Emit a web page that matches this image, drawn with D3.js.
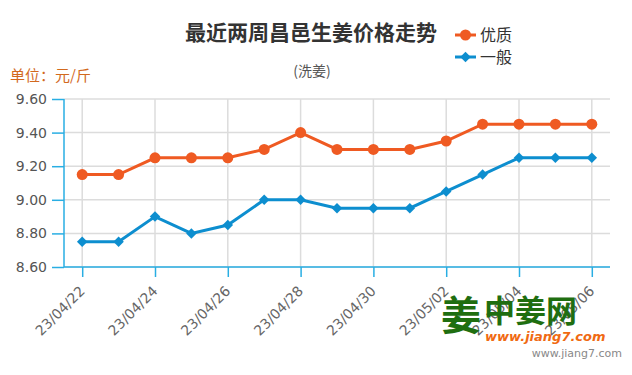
<!DOCTYPE html>
<html><head><meta charset="utf-8">
<script src="https://cdn.jsdelivr.net/npm/d3@7/dist/d3.min.js"></script>
<style>body{margin:0;background:#fff}svg{display:block;font-family:"Noto Sans CJK SC","Noto Sans",sans-serif}</style>
</head><body><svg id="c" width="632" height="375"></svg>
<script>
const dates = ["23/04/22","23/04/23","23/04/24","23/04/25","23/04/26","23/04/27","23/04/28","23/04/29","23/04/30","23/05/01","23/05/02","23/05/03","23/05/04","23/05/05","23/05/06"];
const premium = [9.15,9.15,9.25,9.25,9.25,9.30,9.40,9.30,9.30,9.30,9.35,9.45,9.45,9.45,9.45];
const regular = [8.75,8.75,8.90,8.80,8.85,9.00,9.00,8.95,8.95,8.95,9.05,9.15,9.25,9.25,9.25];
const yTicks = [8.60,8.80,9.00,9.20,9.40,9.60];
const xTicks = dates.filter((d,i)=>i%2===0);

const svg = d3.select("#c");
const L=64,R=610,T=99,B=267;
const x = d3.scalePoint().domain(dates).range([L,R]).padding(0.5);
const y = d3.scaleLinear().domain([8.6,9.6]).range([B,T]);
const orange="#ef5a22", blue="#0d8ecf", axisC="#29aee3";

// grid
svg.append("g").selectAll("line").data(yTicks).join("line")
  .attr("x1",L).attr("x2",R).attr("y1",d=>y(d)).attr("y2",d=>y(d))
  .attr("stroke","#dcdcdc").attr("stroke-width",1.5);
svg.append("g").selectAll("line").data(xTicks).join("line")
  .attr("x1",d=>x(d)).attr("x2",d=>x(d)).attr("y1",T).attr("y2",B)
  .attr("stroke","#dcdcdc").attr("stroke-width",1.5);

// axes
const ya = svg.append("g").attr("transform",`translate(${L},0)`)
  .call(d3.axisLeft(y).tickValues(yTicks).tickFormat(d3.format(".2f")).tickSize(12).tickPadding(5));
ya.select(".domain").attr("stroke",axisC).attr("stroke-width",1.5).attr("d",`M0,${T}V${B}`);
ya.selectAll(".tick line").attr("stroke",axisC).attr("stroke-width",1.5);
ya.selectAll("text").attr("fill","#555").attr("font-family","DejaVu Sans").attr("font-size",14);

const xa = svg.append("g").attr("transform",`translate(0,${B})`)
  .call(d3.axisBottom(x).tickValues(xTicks).tickSize(10).tickSizeOuter(0));
xa.select(".domain").attr("stroke",axisC).attr("stroke-width",1.5).attr("d",`M${L},0H${R}`);
xa.selectAll(".tick line").attr("stroke",axisC).attr("stroke-width",1.5);
xa.selectAll("text").attr("fill","#666").attr("font-size",14).attr("font-family","DejaVu Sans")
  .attr("text-anchor","end").attr("x",0).attr("y",0).attr("dy",0).attr("transform","translate(3,25) rotate(-45)");

// watermark logo
const wm = svg.append("g");
wm.append("text").attr("x",441).attr("y",330).attr("font-size",40).attr("font-weight","bold").attr("fill","#1f6e10").text("姜");
wm.append("text").attr("x",484).attr("y",322).attr("font-size",31).attr("font-weight","bold").attr("fill","#1f6e10").text("中姜网");
wm.append("text").attr("x",485).attr("y",341).attr("font-size",13).attr("font-weight","bold").attr("font-style","italic").attr("font-family","DejaVu Sans").attr("fill","#f06a12").text("www.jiang7.com");

// lines
const line = d3.line().x((d,i)=>x(dates[i])).y(d=>y(d));
svg.append("path").datum(premium).attr("d",line).attr("fill","none").attr("stroke",orange).attr("stroke-width",3);
svg.append("path").datum(regular).attr("d",line).attr("fill","none").attr("stroke",blue).attr("stroke-width",3);
svg.append("g").selectAll("circle").data(premium).join("circle")
  .attr("cx",(d,i)=>x(dates[i])).attr("cy",d=>y(d)).attr("r",5.5).attr("fill",orange);
const dia = d3.symbol().type(d3.symbolDiamond2).size(70);
svg.append("g").selectAll("path").data(regular).join("path")
  .attr("d",dia).attr("transform",(d,i)=>`translate(${x(dates[i])},${y(d)})`).attr("fill",blue);

// titles
svg.append("text").attr("x",311).attr("y",40).attr("text-anchor","middle").attr("font-size",21).attr("font-weight","bold").attr("fill","#333").text("最近两周昌邑生姜价格走势");
svg.append("text").attr("x",312).attr("y",76).attr("text-anchor","middle").attr("font-size",14).attr("fill","#555").text("(洗姜)");
svg.append("text").attr("x",10).attr("y",81).attr("font-size",15).attr("fill","#d2691e").text("单位：元/斤");
svg.append("text").attr("x",622).attr("y",357).attr("text-anchor","end").attr("font-size",11).attr("font-family","DejaVu Sans").attr("fill","#888").text("www.jiang7.com");

// legend
const leg = [["优质",orange,"c"],["一般",blue,"d"]];
leg.forEach((l,i)=>{
  const g = svg.append("g").attr("transform",`translate(455,${35+i*22})`);
  g.append("line").attr("x1",0).attr("x2",21).attr("stroke",l[1]).attr("stroke-width",3);
  if(l[2]==="c") g.append("circle").attr("cx",10.5).attr("r",5.5).attr("fill",l[1]);
  else g.append("path").attr("d",dia).attr("transform","translate(10.5,0)").attr("fill",l[1]);
  g.append("text").attr("x",25).attr("y",6).attr("font-size",16).attr("fill","#333").text(l[0]);
});
</script></body></html>
